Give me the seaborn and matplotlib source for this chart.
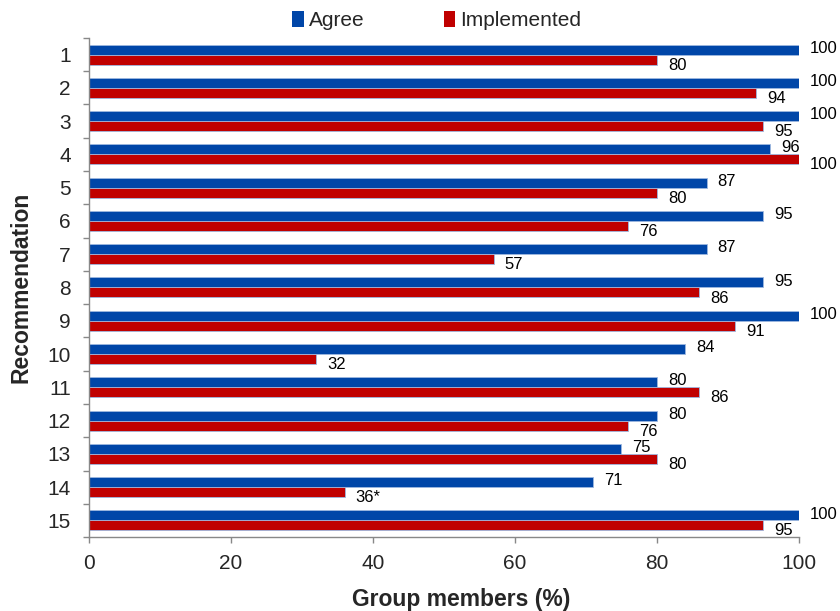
import matplotlib
matplotlib.use("Agg")
import matplotlib.pyplot as plt
import seaborn as sns
import pandas as pd
import numpy as np
from matplotlib.ticker import FixedLocator

recommendations = [str(i) for i in range(1, 16)]
agree = [100, 100, 100, 96, 87, 95, 87, 95, 100, 84, 80, 80, 75, 71, 100]
implemented = [80, 94, 95, 100, 80, 76, 57, 86, 91, 32, 86, 76, 80, 36, 95]
agree_labels = [str(v) for v in agree]
implemented_labels = [str(v) for v in implemented]
implemented_labels[13] = "36*"
series_names = ["Agree", "Implemented"]
colors = ["#0046a8", "#c00000"]

sns.set_theme(style="white")
plt.rcParams["font.family"] = ["Liberation Sans", "DejaVu Sans"]

df = pd.DataFrame({
    "Recommendation": recommendations * 2,
    "Value": agree + implemented,
    "Series": [series_names[0]] * 15 + [series_names[1]] * 15,
})

fig = plt.figure(figsize=(8.4, 6.11), dpi=100)
ax = fig.add_axes([0.106, 0.121, 0.845, 0.817])
sns.barplot(data=df, x="Value", y="Recommendation", hue="Series",
            order=recommendations, hue_order=series_names,
            palette=colors, orient="h", width=0.6, ax=ax,
            edgecolor="#9db8e0", linewidth=0.6, saturation=1, legend=True)

# data labels
for cont, labels, dy in zip(ax.containers, [agree_labels, implemented_labels], [1, -4]):
    for bar, lab in zip(cont, labels):
        w = bar.get_width()
        yc = bar.get_y() + bar.get_height() / 2
        ax.annotate(lab, (w, yc), xytext=(8, dy), textcoords="offset points",
                    ha="left", va="center", fontsize=12, color="black")

ax.set_xlim(0, 100)
ax.set_ylim(14.5, -0.5)
ax.set_xticks([0, 20, 40, 60, 80, 100])
ax.tick_params(axis="x", labelsize=15, length=4, width=1, color="#888888",
               direction="out", bottom=True, pad=8)
ax.tick_params(axis="y", which="major", labelsize=15, length=0, pad=13)
ax.yaxis.set_minor_locator(FixedLocator(np.arange(-0.5, 15, 1)))
ax.tick_params(axis="y", which="minor", length=4, width=1, color="#888888",
               direction="out", left=True)
for s in ["top", "right"]:
    ax.spines[s].set_visible(False)
for s in ["left", "bottom"]:
    ax.spines[s].set_color("#888888")
    ax.spines[s].set_linewidth(1)

ax.set_xlabel("Group members (%)", fontsize=16.5, fontweight="bold")
ax.xaxis.set_label_coords(0.524, -0.103)
ax.set_ylabel("Recommendation", fontsize=16.5, fontweight="bold", labelpad=11)

handles, labels = ax.get_legend_handles_labels()
leg = ax.legend(handles, labels, loc="center", bbox_to_anchor=(0.49, 1.035),
                ncol=2, frameon=False, fontsize=15, handlelength=0.55, handleheight=0.8,
                handletextpad=0.25, columnspacing=3.8, borderpad=0)
for h in leg.legend_handles:
    h.set_edgecolor("none")

fig.savefig("out.png", dpi=100)
